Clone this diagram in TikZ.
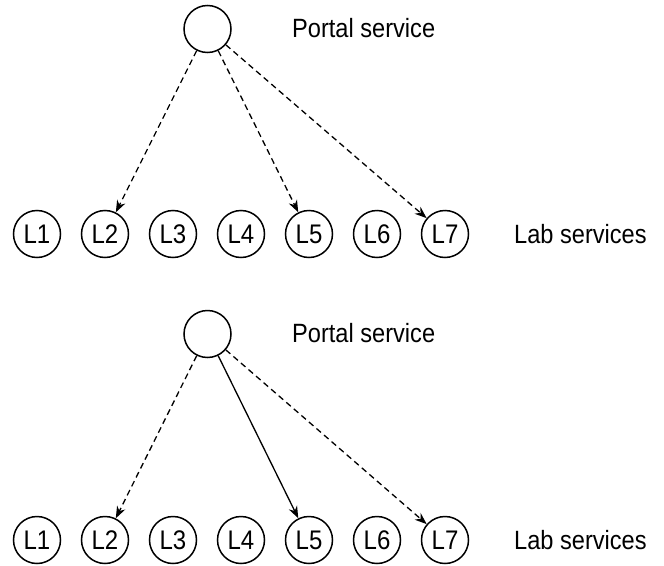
\documentclass[tikz,border=0pt]{standalone}
\usepackage{fontspec}
\setmainfont{Liberation Sans}
\usetikzlibrary{arrows.meta}
\newcommand{\tallt}[1]{\scalebox{1}[1.12]{#1}}
\begin{document}
\begin{tikzpicture}[x=1pt,y=-1pt,
  svc/.style={circle,draw,line width=1.5pt,minimum size=47pt,inner sep=0pt,font=\fontsize{24}{28}\selectfont},
  lbl/.style={anchor=west,inner sep=0pt,font=\fontsize{23.6}{28}\selectfont},
  conn/.style={line width=1.3pt,-{Stealth[length=12pt,width=9pt]}},
  dsh/.style={conn,dash pattern=on 6pt off 4pt}]
\useasboundingbox (0,0) rectangle (664,565);
% top diagram
\node[svc] (p1) at (207.5,29) {};
\node[lbl] (pt1) at (292,28) {\tallt{Portal service}};
\foreach \i/\x in {1/37,2/105,3/173,4/241,5/309,6/377,7/445}{
  \node[svc] (a\i) at (\x,234) {\tallt{L\i}};
}
\node[lbl] (lt1) at (514,234) {\tallt{Lab services}};
\draw[dsh] (p1) -- (a2);
\draw[dsh] (p1) -- (a5);
\draw[dsh] (p1) -- (a7);
% bottom diagram
\node[svc] (p2) at (207.5,334) {};
\node[lbl] (pt2) at (292,333) {\tallt{Portal service}};
\foreach \i/\x in {1/37,2/105,3/173,4/241,5/309,6/377,7/445}{
  \node[svc] (b\i) at (\x,540) {\tallt{L\i}};
}
\node[lbl] (lt2) at (514,540) {\tallt{Lab services}};
\draw[dsh] (p2) -- (b2);
\draw[conn] (p2) -- (b5);
\draw[dsh] (p2) -- (b7);
\end{tikzpicture}
\end{document}
